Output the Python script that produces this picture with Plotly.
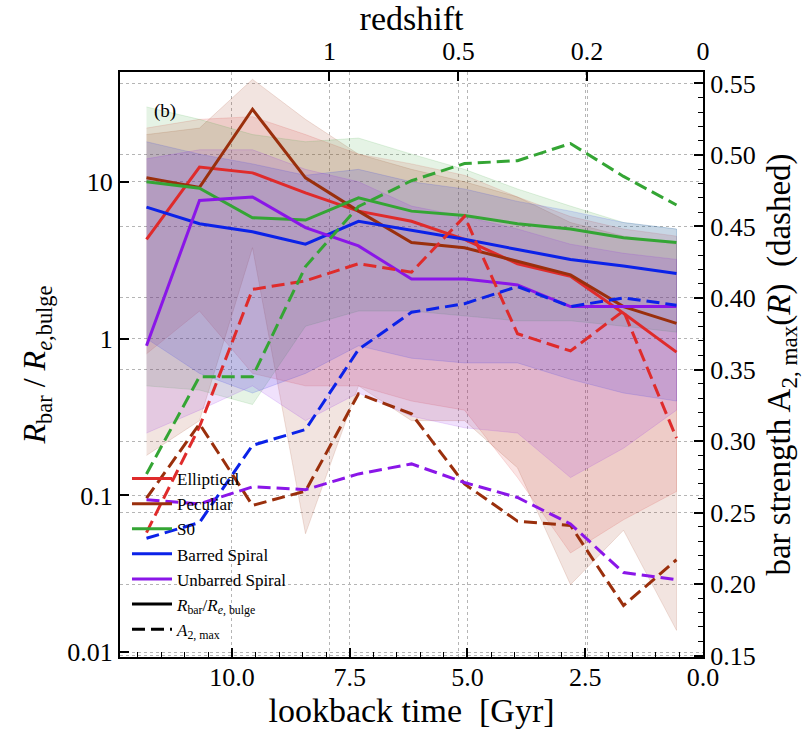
import plotly.graph_objects as go

# lookback-time bin centres [Gyr]
t_gyr = [11.8125, 10.6875, 9.5625, 8.4375, 7.3125, 6.1875, 5.0625, 3.9375, 2.8125, 1.6875, 0.5625]

series_names = ["Elliptical", "Peculiar", "S0", "Barred Spiral", "Unbarred Spiral"]
series_colors = ["#df2b2b", "#9a2f0c", "#34a534", "#0b22e8", "#8a16e8"]

# R_bar / R_e,bulge (solid, left axis)
ratio_ell = [4.3, 12.4, 11.4, 8.5, 6.5, 5.6, 4.3, 3.0, 2.5, 1.45, 0.82]
ratio_pec = [10.6, 9.2, 29.0, 10.6, 6.5, 4.1, 3.8, 3.1, 2.55, 1.6, 1.25]
ratio_s0 = [10.0, 9.1, 5.9, 5.7, 7.9, 6.5, 6.1, 5.4, 5.0, 4.4, 4.1]
ratio_bar = [6.9, 5.4, 4.8, 4.0, 5.6, 4.9, 4.3, 3.7, 3.2, 2.9, 2.6]
ratio_unb = [0.9, 7.6, 8.0, 5.1, 3.9, 2.4, 2.4, 2.2, 1.6, 1.6, 1.6]

# shaded ranges of the ratio
hi_ell = [22, 25, 26, 20, 15, 13, 11, 8, 6, 5, 4.5]
lo_ell = [0.8, 1.5, 0.6, 0.5, 0.5, 0.4, 0.35, 0.13, 0.043, 0.07, 0.106]
hi_pec = [20, 22, 45, 25, 15, 12, 10, 8, 5.5, 4.5, 4.0]
lo_pec = [0.18, 0.3, 3.8, 0.057, 0.5, 0.3, 0.3, 0.15, 0.027, 0.06, 0.0138]
hi_s0 = [30, 25, 20, 18, 19, 15, 12, 9, 7, 5.5, 5.0]
lo_s0 = [0.5, 0.47, 0.38, 1.2, 1.5, 1.5, 1.4, 1.3, 1.3, 1.2, 1.1]
hi_bar = [18, 15, 13, 11, 12, 10, 9, 7.5, 6.5, 5.5, 5.0]
lo_bar = [1.0, 0.6, 0.45, 0.6, 0.9, 0.75, 0.7, 0.7, 0.55, 0.45, 0.4]
hi_unb = [14, 16, 16, 12, 10, 7, 6, 5, 4, 3.5, 3.2]
lo_unb = [0.25, 0.35, 0.5, 0.3, 0.45, 0.32, 0.27, 0.25, 0.13, 0.2, 0.35]

# bar strength A2,max (dashed, right axis)
a2_ell = [0.236, 0.31, 0.406, 0.412, 0.424, 0.418, 0.457, 0.375, 0.363, 0.391, 0.302]
a2_pec = [0.26, 0.312, 0.255, 0.265, 0.333, 0.319, 0.270, 0.244, 0.241, 0.185, 0.217]
a2_s0 = [0.277, 0.345, 0.345, 0.422, 0.464, 0.482, 0.494, 0.496, 0.508, 0.485, 0.465]
a2_bar = [0.232, 0.243, 0.297, 0.308, 0.364, 0.390, 0.396, 0.408, 0.394, 0.400, 0.395]
a2_unb = [0.259, 0.256, 0.268, 0.266, 0.277, 0.284, 0.271, 0.2605, 0.242, 0.208, 0.203]

# axes ticks
lookback_ticks = [10.0, 7.5, 5.0, 2.5, 0.0]
lookback_ticktext = ["10.0", "7.5", "5.0", "2.5", "0.0"]
redshift_ticks_t = [7.93, 5.19, 2.46, 0.0]
redshift_ticktext = ["1", "0.5", "0.2", "0"]
ratio_ticks = [0.01, 0.1, 1, 10]
ratio_ticktext = ["0.01", "0.1", "1", "10"]
a2_ticks = [0.15, 0.20, 0.25, 0.30, 0.35, 0.40, 0.45, 0.50, 0.55]

ratios = [ratio_ell, ratio_pec, ratio_s0, ratio_bar, ratio_unb]
his = [hi_ell, hi_pec, hi_s0, hi_bar, hi_unb]
los = [lo_ell, lo_pec, lo_s0, lo_bar, lo_unb]
a2s = [a2_ell, a2_pec, a2_s0, a2_bar, a2_unb]

FONT = "Liberation Serif"


def rgba(hexc, a):
    h = hexc.lstrip("#")
    r, g, b = int(h[0:2], 16), int(h[2:4], 16), int(h[4:6], 16)
    return f"rgba({r},{g},{b},{a})"


fig = go.Figure()

# bands
for name, col, hi, lo in zip(series_names, series_colors, his, los):
    fig.add_trace(go.Scatter(
        x=t_gyr + t_gyr[::-1], y=hi + lo[::-1], fill="toself",
        fillcolor=rgba(col, 0.13), line=dict(color=rgba(col, 0.18), width=0.8),
        mode="lines", showlegend=False, hoverinfo="skip", xaxis="x", yaxis="y"))

# solid ratio lines
for name, col, r in zip(series_names, series_colors, ratios):
    fig.add_trace(go.Scatter(
        x=t_gyr, y=r, mode="lines", name=name,
        line=dict(color=col, width=3), xaxis="x", yaxis="y"))

# dashed A2 lines
for name, col, a in zip(series_names, series_colors, a2s):
    fig.add_trace(go.Scatter(
        x=t_gyr, y=a, mode="lines", name=name, showlegend=False,
        line=dict(color=col, width=3, dash="13px,6px"), xaxis="x", yaxis="y2"))

# legend-only style entries
fig.add_trace(go.Scatter(x=[None], y=[None], mode="lines",
                         name="<i>R</i><sub>bar</sub>/<i>R</i><sub><i>e</i>, bulge</sub>",
                         line=dict(color="black", width=3), xaxis="x", yaxis="y"))
fig.add_trace(go.Scatter(x=[None], y=[None], mode="lines",
                         name="<i>A</i><sub>2, max</sub>",
                         line=dict(color="black", width=3, dash="13px,6px"), xaxis="x", yaxis="y"))

# top redshift axis carrier trace
fig.add_trace(go.Scatter(x=[None], y=[None], xaxis="x2", yaxis="y", showlegend=False))

XR = [12.375, 0.0]
grid = dict(showgrid=True, griddash="dot", gridcolor="#b5b5b5", gridwidth=1)

fig.update_layout(
    width=802, height=731,
    margin=dict(l=120, r=99, t=72, b=74),
    paper_bgcolor="white", plot_bgcolor="white",
    font=dict(family=FONT, color="black", size=26),
    showlegend=True,
    legend=dict(x=0.012, y=0.335, xanchor="left", yanchor="top",
                bgcolor="rgba(0,0,0,0)", font=dict(family=FONT, size=17, color="black"),
                tracegroupgap=0, itemwidth=40),
    xaxis=dict(range=XR, tickvals=lookback_ticks, ticktext=lookback_ticktext,
               ticks="inside", ticklen=9, tickwidth=1.5, tickcolor="black", ticklabelstandoff=-4,
               minor=dict(dtick=0.5, ticks="inside", ticklen=5, tickwidth=1, tickcolor="black", showgrid=False),
               showline=True, linecolor="black", linewidth=2, mirror=False, automargin=False,
               title=dict(text="lookback time  [Gyr]", font=dict(size=34), standoff=0),
               tickfont=dict(size=26), zeroline=False, **grid),
    xaxis2=dict(range=XR, overlaying="x", side="top", tickvals=redshift_ticks_t,
                ticktext=redshift_ticktext, ticks="inside", ticklen=9, tickwidth=1.5,
                tickcolor="black", showline=True, linecolor="black", linewidth=2, automargin=False,
                title=dict(text="redshift", font=dict(size=34), standoff=2),
                tickfont=dict(size=26), zeroline=False, **grid),
    yaxis=dict(type="log", range=[-2.03, 1.70], tickvals=ratio_ticks, ticktext=ratio_ticktext,
               ticks="inside", ticklen=9, tickwidth=1.5, tickcolor="black",
               showline=True, linecolor="black", linewidth=2, automargin=False,
               title=dict(text="<i>R</i><sub>bar</sub> / <i>R</i><sub><i>e</i>,bulge</sub>",
                          font=dict(size=32), standoff=12),
               tickfont=dict(size=26), zeroline=False, **grid),
    yaxis2=dict(overlaying="y", side="right", range=[0.149, 0.558], tickvals=a2_ticks,
                tickformat=".2f", ticks="inside", ticklen=9, tickwidth=1.5, tickcolor="black",
                minor=dict(dtick=0.01, ticks="inside", ticklen=5, tickwidth=1, tickcolor="black", showgrid=False),
                showline=True, linecolor="black", linewidth=2, automargin=False,
                title=dict(text="bar strength A<sub>2, max</sub>(<i>R</i>)  (dashed)",
                           font=dict(size=33), standoff=12),
                tickfont=dict(size=26), zeroline=False, **grid),
    annotations=[dict(text="(b)", x=0.055, y=0.955, xref="paper", yref="paper",
                      showarrow=False, font=dict(family=FONT, size=19, color="black"))],
)

fig.write_html("out.html")
